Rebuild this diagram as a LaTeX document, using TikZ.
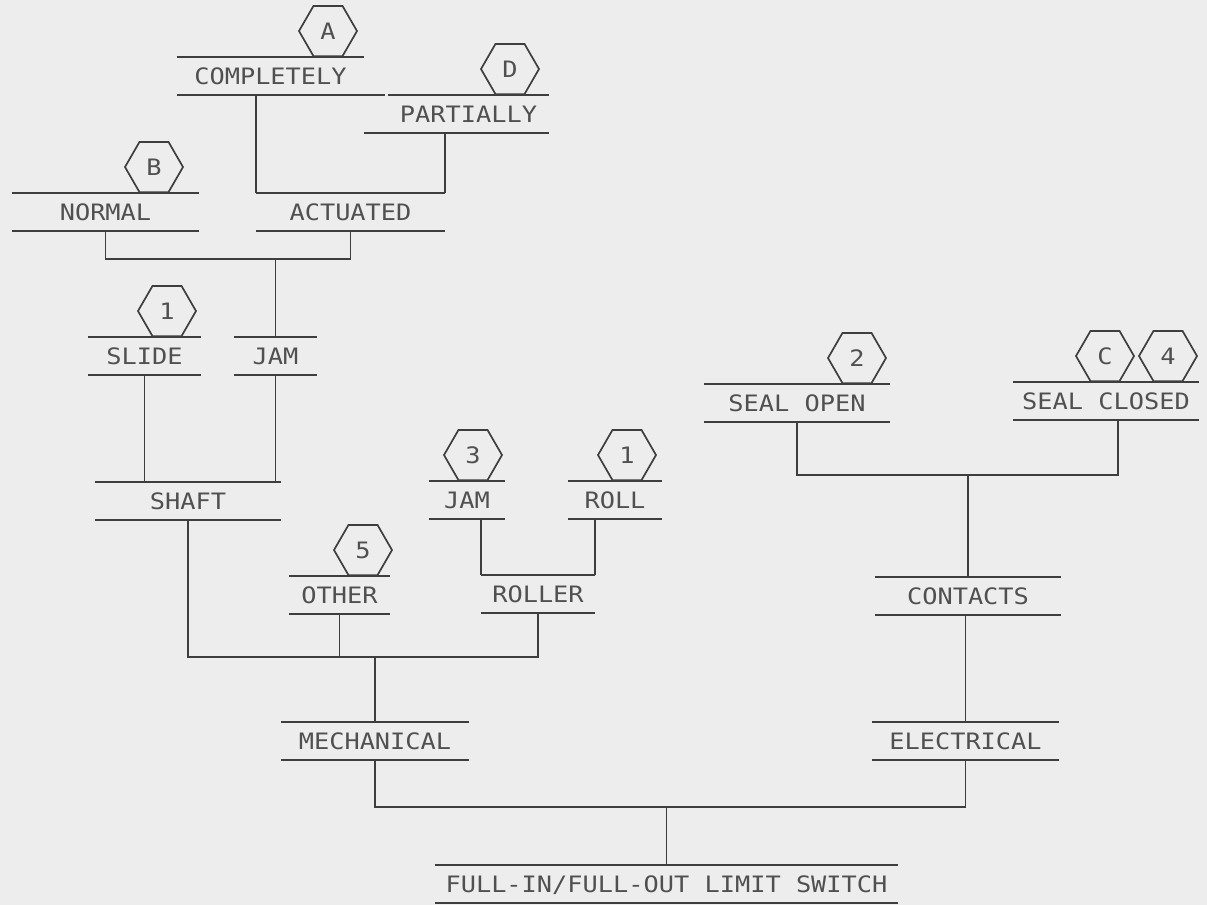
\documentclass[tikz,border=0pt]{standalone}
\usepackage{fontspec}
\usetikzlibrary{shapes.geometric,calc}
\newfontfamily\plotfont[FakeStretch=1.12]{DejaVu Sans Mono}
\definecolor{bgc}{RGB}{237,237,237}
\definecolor{linec}{RGB}{62,62,62}
\definecolor{textc}{RGB}{80,80,80}
\begin{document}
\begin{tikzpicture}[x=1pt,y=-1pt,
  lineS/.style={draw=linec, line width=1.9pt},
  conn/.style={draw=linec, line width=1.7pt},
  lbl/.style={inner sep=0pt, minimum height=38pt, text height=16.5pt, text depth=0pt,
    font=\fontsize{22.6}{24}\plotfont, text=textc,
    append after command={(\tikzlastnode.north west) edge[lineS] (\tikzlastnode.north east)
      (\tikzlastnode.south west) edge[lineS] (\tikzlastnode.south east)}},
  hexa/.style={regular polygon, regular polygon sides=6, minimum size=58pt, inner sep=0pt,
    draw=linec, line width=1.7pt, font=\fontsize{22.6}{24}\plotfont, text=textc, anchor=south}]
\fill[bgc] (0,0) rectangle (1207,905);
\useasboundingbox (0,0) rectangle (1207,905);

% labels
\node[lbl, minimum width=187pt] (comp) at (270.5,76) {COMPLETELY};
\node[lbl, minimum width=161pt] (part) at (468.5,114) {PARTIALLY};
\node[lbl, minimum width=187pt] (normal) at (105.5,212) {NORMAL};
\node[lbl, minimum width=189pt] (act) at (350.5,212) {ACTUATED};
\node[lbl, minimum width=113pt] (slide) at (144.5,356) {SLIDE};
\node[lbl, minimum width=83pt] (jamA) at (275.5,356) {JAM};
\node[lbl, minimum width=186pt] (shaft) at (188,501) {SHAFT};
\node[lbl, minimum width=76pt] (jamB) at (467,500) {JAM};
\node[lbl, minimum width=94pt] (roll) at (615,500) {ROLL};
\node[lbl, minimum width=101pt] (other) at (339.5,595) {OTHER};
\node[lbl, minimum width=114pt] (roller) at (538,594) {ROLLER};
\node[lbl, minimum width=188pt] (mech) at (375,741) {MECHANICAL};
\node[lbl, minimum width=186pt] (sopen) at (797,403) {SEAL OPEN};
\node[lbl, minimum width=186pt] (sclosed) at (1106,401) {SEAL CLOSED};
\node[lbl, minimum width=186pt] (contacts) at (968,596) {CONTACTS};
\node[lbl, minimum width=187pt] (elec) at (965.5,741) {ELECTRICAL};
\node[lbl, minimum width=463pt] (full) at (666.5,884) {FULL-IN/FULL-OUT LIMIT SWITCH};

% line extensions
\draw[lineS] (comp.south east) -- ++(21,0);
\draw[lineS] (part.south west) -- ++(-24,0);

% hexagons
\node[hexa] (hA) at (328,57) {A};
\node[hexa] (hD) at (510,95) {D};
\node[hexa] (hB) at (154,193) {B};
\node[hexa] (hOneA) at (167,337) {1};
\node[hexa] (hThree) at (473,481) {3};
\node[hexa] (hOneB) at (627,481) {1};
\node[hexa] (hFive) at (363,576) {5};
\node[hexa] (hTwo) at (857,384) {2};
\node[hexa] (hC) at (1105,382) {C};
\node[hexa] (hFour) at (1168,382) {4};

% connectors
\draw[conn] (act.north west |- comp.south) -- (act.north west);
\draw[conn] (act.north east |- part.south) -- (act.north east);

\coordinate (b1) at ($(jamA.north |- 0,259)$);
\draw[conn] (normal.south) |- (b1) -| (act.south);
\draw[conn] (b1) -- (jamA.north);

\draw[conn] (slide.south) -- (slide.south |- shaft.north);
\draw[conn] (jamA.south) -- (jamA.south |- shaft.north);

\draw[conn] (roller.north west |- jamB.south) -- (roller.north west);
\draw[conn] (roller.north east |- roll.south) -- (roller.north east);

\coordinate (b2) at ($(mech.north |- 0,657)$);
\draw[conn] (shaft.south) |- (b2) -| (roller.south);
\draw[conn] (other.south) -- (other.south |- b2);
\draw[conn] (b2) -- (mech.north);

\coordinate (b3) at ($(contacts.north |- 0,475)$);
\draw[conn] (sopen.south) |- (b3) -| ([xshift=12pt]sclosed.south);
\draw[conn] (b3) -- (contacts.north);

\draw[conn] (elec.north) -- (elec.north |- contacts.south);

\coordinate (b4) at ($(full.north |- 0,807)$);
\draw[conn] (mech.south) |- (b4) -| (elec.south);
\draw[conn] (b4) -- (full.north);
\end{tikzpicture}
\end{document}
